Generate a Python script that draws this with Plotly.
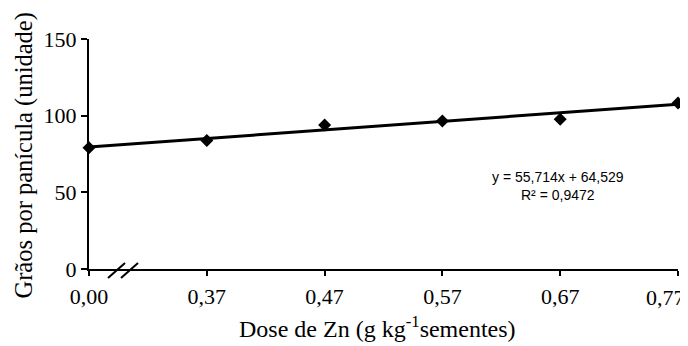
import plotly.graph_objects as go

doses = ["0,00", "0,37", "0,47", "0,57", "0,67", "0,77"]
dose_values = [0.00, 0.37, 0.47, 0.57, 0.67, 0.77]
graos = [79.0, 83.8, 93.9, 96.6, 97.6, 108.3]
slope = 55.714
intercept = 64.529
r2 = 0.9472

pos = list(range(len(doses)))
# trend line evaluated from the equation at the doses after the break,
# extended linearly (in plot space) back to the first position
trend = [slope * d + intercept for d in dose_values[1:]]
trend = [trend[0] - (trend[1] - trend[0])] + trend

# the last label is drawn separately, nudged left so it fits (as in the original)
ticktext = list(doses[:-1]) + [""]

fig = go.Figure()
fig.add_trace(go.Scatter(x=pos, y=trend, mode="lines",
                         line=dict(color="black", width=3), showlegend=False,
                         hoverinfo="skip", cliponaxis=False))
fig.add_trace(go.Scatter(x=pos, y=graos, mode="markers",
                         marker=dict(symbol="diamond", color="black", size=10),
                         showlegend=False, cliponaxis=False))

serif = "Liberation Serif"
OFF = 8  # page body margin offset
W, H = 688, 346
# target screen positions: y-axis x=89, top y=39, x-axis y=269, right end x=678
L = 89 - OFF
T = 39 - OFF
B = H - (269 - OFF)
R = W - (678 - OFF)
pw = W - L - R
ph = H - T - B

fig.update_layout(
    width=W, height=H,
    margin=dict(l=L, r=R, t=T, b=B),
    paper_bgcolor="white", plot_bgcolor="white",
    font=dict(family=serif, color="black", size=22),
    xaxis=dict(range=[0, 5.0], tickmode="array", tickvals=pos, ticktext=ticktext,
               showgrid=False, zeroline=False, showline=True, linecolor="black",
               linewidth=2, ticks="outside", ticklen=5, tickwidth=2, tickcolor="black",
               tickfont=dict(family=serif, size=22), automargin=False,
               ticklabelstandoff=2),
    yaxis=dict(range=[0, 150], tickvals=[0, 50, 100, 150],
               showgrid=False, zeroline=False, showline=True, linecolor="black",
               linewidth=2, ticks="outside", ticklen=6, tickwidth=2, tickcolor="black",
               tickfont=dict(family=serif, size=22), automargin=False),
)

def px2paper_x(sx):
    return (sx - OFF - L) / pw

def py2paper_y(sy):
    return (H - B - (sy - OFF)) / ph

fig.add_annotation(x=pos[-1], xref="x", y=py2paper_y(297.5), yref="paper",
                   text=doses[-1], showarrow=False, xanchor="center", yanchor="middle",
                   xshift=-13, font=dict(family=serif, size=22, color="black"))

for x0, x1 in [(108, 125), (121, 138)]:
    fig.add_shape(type="line", xref="paper", yref="paper",
                  x0=px2paper_x(x0), y0=py2paper_y(278),
                  x1=px2paper_x(x1), y1=py2paper_y(263),
                  line=dict(color="black", width=2))

fig.add_annotation(x=px2paper_x(377), y=py2paper_y(344), xref="paper", yref="paper",
                   text="Dose de Zn (g kg<sup>-1</sup>sementes)", showarrow=False,
                   xanchor="center", yanchor="bottom",
                   font=dict(family=serif, size=24, color="black"))
fig.add_annotation(x=px2paper_x(23), y=py2paper_y(155.5), xref="paper", yref="paper",
                   text="Grãos por panícula (unidade)", showarrow=False, textangle=-90,
                   xanchor="center", yanchor="middle",
                   font=dict(family=serif, size=24.5, color="black"))

fig.add_annotation(x=px2paper_x(558), y=py2paper_y(186), xref="paper", yref="paper",
                   text=f"y = 55,714x + 64,529<br>R² = {str(r2).replace('.', ',')}",
                   showarrow=False, align="center", xanchor="center", yanchor="middle",
                   font=dict(family="Liberation Sans", size=14, color="black"))

fig.write_html("out.html")
